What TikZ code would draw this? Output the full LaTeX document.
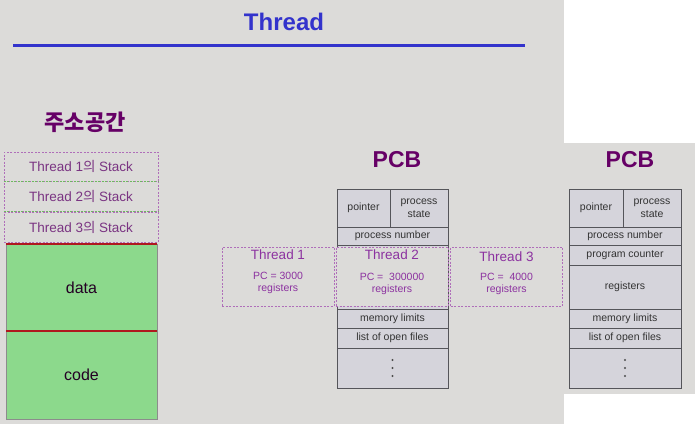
\documentclass[tikz,border=0pt]{standalone}
\usepackage{fontspec}
\setmainfont{Liberation Sans}
\newfontfamily\krfont{Noto Sans CJK KR}
\usetikzlibrary{positioning}
\definecolor{slidebg}{RGB}{220,219,217}
\definecolor{titleblue}{RGB}{51,51,204}
\definecolor{headpurple}{RGB}{102,0,102}
\definecolor{stackpurple}{RGB}{122,52,130}
\definecolor{threadpurple}{RGB}{140,50,160}
\definecolor{dashpurple}{RGB}{175,110,185}
\definecolor{dashgreen}{RGB}{110,185,95}
\definecolor{segfill}{RGB}{140,217,140}
\definecolor{segred}{RGB}{175,25,30}
\definecolor{cellfill}{RGB}{213,212,219}
\definecolor{cellline}{RGB}{85,85,90}

\begin{document}
\begin{tikzpicture}[
    x=1pt, y=-1pt,
    heading/.style={font=\fontsize{23}{26}\selectfont\bfseries, text=headpurple, inner sep=0pt},
    stackbox/.style={draw=dashpurple, dash pattern=on 2pt off 1.5pt, fill=slidebg, minimum width=154pt, inner sep=0pt, font=\fontsize{13.5}{15}\selectfont, text=stackpurple},
    segment/.style={draw=black!45, fill=segfill, minimum width=151pt, inner sep=0pt, font=\fontsize{16}{18}\selectfont, text=black!65!headpurple},
    cell/.style={draw=cellline, fill=cellfill, line width=0.9pt, inner sep=0pt, align=center, font=\fontsize{10.5}{12.5}\selectfont, text=black!80},
    threadbox/.style={draw=dashpurple, dash pattern=on 2pt off 1.5pt, fill=slidebg, minimum width=112pt, minimum height=59pt, inner sep=0pt},
    threadname/.style={font=\fontsize{13.5}{15}\selectfont, text=threadpurple, inner sep=0pt},
    threadinfo/.style={font=\fontsize{10.5}{12}\selectfont, text=threadpurple, align=center, inner sep=0pt},
    celldot/.style={fill=black!70}
]
\useasboundingbox (0,0) rectangle (700,424);
% slide backgrounds
\fill[white] (0,0) rectangle (700,424);
\fill[slidebg] (0,0) rectangle (564,424);
\fill[slidebg] (564,143) rectangle (695,394);

% title
\node[font=\fontsize{24}{28}\selectfont\bfseries, text=titleblue, inner sep=0pt] (title) at (284,22) {Thread};
\draw[titleblue, line width=3pt] (13,45) -- (525,45);

% address space
\node[heading, font=\fontsize{22}{26}\selectfont\bfseries\krfont] (addr) at (85,122) {주소공간};
\node[stackbox, minimum height=29pt] (st1) at (81,166.5) {Thread 1{\krfont 의} Stack};
\node[stackbox, minimum height=30pt] (st2) at (81,196) {Thread 2{\krfont 의} Stack};
\node[stackbox, minimum height=30pt] (st3) at (81,227) {Thread 3{\krfont 의} Stack};
\draw[dashgreen, line width=1pt, dash pattern=on 2pt off 1.5pt] (st1.south west) -- (st1.south east);
\draw[dashgreen, line width=1pt, dash pattern=on 2pt off 1.5pt] (st2.south west) -- (st2.south east);
\node[segment, minimum height=87pt] (data) at (81.5,287.5) {data};
\node[segment, minimum height=88pt] (code) at (81.5,375) {code};
\draw[segred, line width=2pt] (data.north west) -- (data.north east);
\draw[segred, line width=2pt] (code.north west) -- (code.north east);

% PCB shared by the threads
\node[heading] (pcbL) at (397,160) {PCB};
\node[cell, minimum width=53pt, minimum height=38pt] (ptrL) at (363.5,208) {pointer};
\node[cell, minimum width=58pt, minimum height=38pt] (stateL) at (419,208) {process\\state};
\node[cell, minimum width=111pt, minimum height=18pt] (pnumL) at (392.5,236) {process number};
\node[cell, minimum width=111pt, minimum height=64pt] (regsL) at (392.5,277) {};
\node[cell, minimum width=111pt, minimum height=19pt] (memL) at (392.5,318.5) {memory limits};
\node[cell, minimum width=111pt, minimum height=20pt] (filesL) at (392.5,338) {list of open files};
\node[cell, minimum width=111pt, minimum height=40pt] (dotsL) at (392.5,368) {};
\foreach \dy in {-8,0,8}
  \fill[celldot] ([yshift=\dy pt]dotsL.center) circle (1.1pt);

% threads
\node[threadbox] (t1) at (278,276.5) {};
\node[threadname] (t1name) at (278,255) {Thread 1};
\node[threadinfo] (t1info) at (278,283) {PC = 3000\\registers};
\node[threadbox] (t2) at (392,276.5) {};
\node[threadname] (t2name) at (392,255) {Thread 2};
\node[threadinfo] (t2info) at (392,284) {PC =~ 300000\\registers};
\node[threadbox] (t3) at (506.5,276.5) {};
\node[threadname] (t3name) at (506.5,257) {Thread 3};
\node[threadinfo] (t3info) at (506.5,284) {PC =~ 4000\\registers};

% PCB of a single-threaded process
\node[heading] (pcbR) at (630,160) {PCB};
\node[cell, minimum width=54pt, minimum height=38pt] (ptrR) at (596,208) {pointer};
\node[cell, minimum width=58pt, minimum height=38pt] (stateR) at (652,208) {process\\state};
\node[cell, minimum width=112pt, minimum height=18pt] (pnumR) at (625,236) {process number};
\node[cell, minimum width=112pt, minimum height=20pt] (pcR) at (625,255) {program counter};
\node[cell, minimum width=112pt, minimum height=44pt] (regsR) at (625,287) {registers};
\node[cell, minimum width=112pt, minimum height=19pt] (memR) at (625,318.5) {memory limits};
\node[cell, minimum width=112pt, minimum height=20pt] (filesR) at (625,338) {list of open files};
\node[cell, minimum width=112pt, minimum height=40pt] (dotsR) at (625,368) {};
\foreach \dy in {-8,0,8}
  \fill[celldot] ([yshift=\dy pt]dotsR.center) circle (1.1pt);
\end{tikzpicture}
\end{document}
